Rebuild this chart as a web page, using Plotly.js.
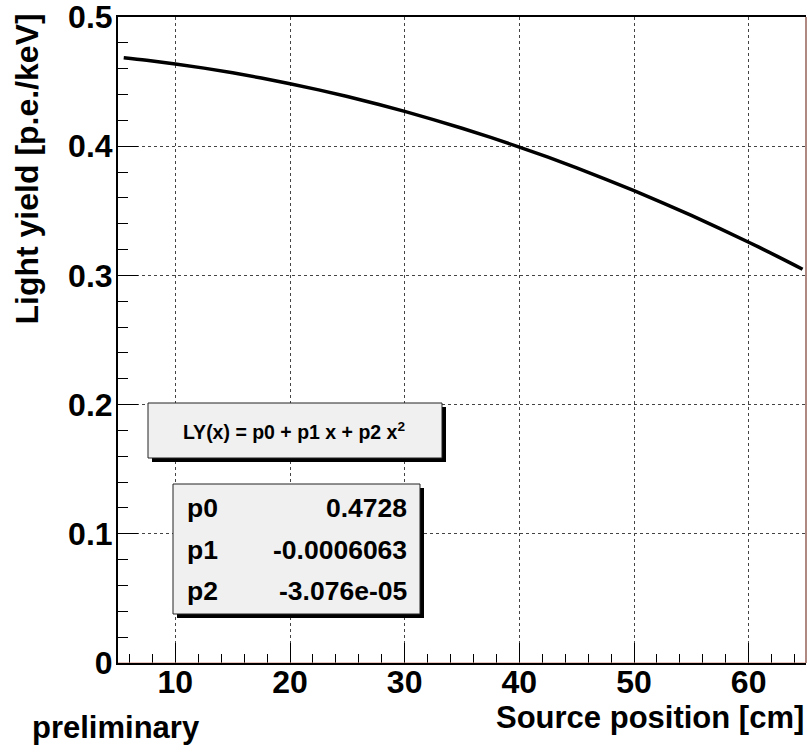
<!DOCTYPE html>
<html>
<head>
<meta charset="utf-8">
<script src="https://cdn.plot.ly/plotly-3.0.1.min.js"></script>
<style>
  html, body { margin: 0; padding: 0; background: #ffffff; }
  #chart { width: 809px; height: 745px; }
</style>
</head>
<body>
<div id="chart"></div>
<script>
// Quadratic light-yield fit: LY(x) = p0 + p1 x + p2 x^2
const paramNames = ['p0', 'p1', 'p2'];
const paramValues = [0.4728, -0.0006063, -3.076e-05];
const paramLabels = ['0.4728', '-0.0006063', '-3.076e-05'];

// Source positions [cm] at which the fitted function is drawn
const sourcePositions = [5.5, 7.5, 10, 12.5, 15, 17.5, 20, 22.5, 25, 27.5, 30, 32.5,
  35, 37.5, 40, 42.5, 45, 47.5, 50, 52.5, 55, 57.5, 60, 62.5, 64.7];

const xTickValues = [10, 20, 30, 40, 50, 60];
const yTickValues = [0, 0.1, 0.2, 0.3, 0.4, 0.5];

const lightYield = sourcePositions.map(x =>
  paramValues[0] + paramValues[1] * x + paramValues[2] * x * x);

const FONT = '"Liberation Sans", Arial, Helvetica, sans-serif';

// plot-area geometry in pixels (used to place boxes in paper units)
const W = 809, H = 745;
const M = { l: 118, r: 3, t: 17, b: 82 };
const PW = W - M.l - M.r, PH = H - M.t - M.b;
const px = v => (v - M.l) / PW;
const py = v => (H - M.b - v) / PH;

const trace = {
  type: 'scatter',
  mode: 'lines',
  x: sourcePositions,
  y: lightYield,
  line: { color: '#000000', width: 3.5, shape: 'spline' },
  hoverinfo: 'x+y',
  showlegend: false
};

const shapes = [];
function paveBox(x0, y0, x1, y1, shadow) {
  shapes.push({ type: 'rect', xref: 'paper', yref: 'paper', layer: 'above',
    x0: px(x0 + shadow), x1: px(x1 + shadow), y0: py(y0 + shadow), y1: py(y1 + shadow),
    fillcolor: '#000000', line: { width: 0 } });
  shapes.push({ type: 'rect', xref: 'paper', yref: 'paper', layer: 'above',
    x0: px(x0), x1: px(x1), y0: py(y0), y1: py(y1),
    fillcolor: '#f0f0f0', line: { color: '#222222', width: 1 } });
}
paveBox(148, 403, 442, 458, 4);
paveBox(173, 484, 420, 614, 4);

// right frame edge
shapes.push({ type: 'line', xref: 'paper', yref: 'paper', layer: 'above',
  x0: 1, x1: 1, y0: 0, y1: 1, line: { color: '#7a3b2e', width: 1.2 } });
// line along y = 0
shapes.push({ type: 'line', xref: 'paper', yref: 'y', layer: 'above',
  x0: 0, x1: 1, y0: 0, y1: 0, line: { color: '#d08878', width: 1 } });

const annotations = [
  { text: 'LY(x) = p0 + p1 x + p2 x<sup>2</sup>', xref: 'paper', yref: 'paper',
    x: px(294), y: py(431), xanchor: 'center', yanchor: 'middle', showarrow: false,
    font: { family: FONT, size: 19.5, weight: 'bold', color: '#000' } },
  { text: 'Light yield [p.e./keV]', xref: 'paper', yref: 'paper', textangle: -90,
    x: px(27), y: py(12), xanchor: 'center', yanchor: 'top', showarrow: false,
    font: { family: FONT, size: 32, weight: 'bold', color: '#000' } },
  { text: 'Source position [cm]', xref: 'paper', yref: 'paper',
    x: px(806), y: py(717), xanchor: 'right', yanchor: 'middle', showarrow: false,
    font: { family: FONT, size: 31, weight: 'bold', color: '#000' } },
  { text: 'preliminary', xref: 'paper', yref: 'paper',
    x: px(30), y: py(727), xanchor: 'left', yanchor: 'middle', showarrow: false,
    font: { family: FONT, size: 31, weight: 'bold', color: '#000' } }
];

const rowCenters = [508, 550, 591];
paramNames.forEach((name, i) => {
  annotations.push({ text: name, xref: 'paper', yref: 'paper',
    x: px(185), y: py(rowCenters[i]), xanchor: 'left', yanchor: 'middle', showarrow: false,
    font: { family: FONT, size: 26.5, weight: 'bold', color: '#000' } });
  annotations.push({ text: paramLabels[i], xref: 'paper', yref: 'paper',
    x: px(409), y: py(rowCenters[i]), xanchor: 'right', yanchor: 'middle', showarrow: false,
    font: { family: FONT, size: 26.5, weight: 'bold', color: '#000' } });
});

const layout = {
  width: W, height: H,
  margin: M,
  paper_bgcolor: '#ffffff',
  plot_bgcolor: '#ffffff',
  showlegend: false,
  xaxis: {
    range: [5, 65],
    tickvals: xTickValues,
    ticks: 'inside', ticklen: 20, tickwidth: 1, tickcolor: '#000',
    minor: { dtick: 2, tick0: 0, ticks: 'inside', ticklen: 9, tickwidth: 1, tickcolor: '#000', showgrid: false },
    showline: true, linecolor: '#000', linewidth: 2, mirror: true,
    showgrid: true, gridcolor: '#444', gridwidth: 1, griddash: '3px,3px',
    zeroline: false,
    ticklabelstandoff: -10,
    ticklabeloverflow: 'allow',
    tickfont: { family: FONT, size: 32, weight: 'bold', color: '#000' }
  },
  yaxis: {
    range: [0, 0.5],
    tickvals: yTickValues,
    ticks: 'inside', ticklen: 20, tickwidth: 1, tickcolor: '#000',
    minor: { dtick: 0.02, tick0: 0, ticks: 'inside', ticklen: 10, tickwidth: 1, tickcolor: '#000', showgrid: false },
    showline: true, linecolor: '#000', linewidth: 2, mirror: false,
    showgrid: true, gridcolor: '#444', gridwidth: 1, griddash: '3px,3px',
    zeroline: false,
    ticklabelstandoff: -3,
    ticklabeloverflow: 'allow',
    tickfont: { family: FONT, size: 32, weight: 'bold', color: '#000' }
  },
  shapes: shapes,
  annotations: annotations
};

Plotly.newPlot('chart', [trace], layout, { staticPlot: true, displayModeBar: false });
</script>
</body>
</html>
